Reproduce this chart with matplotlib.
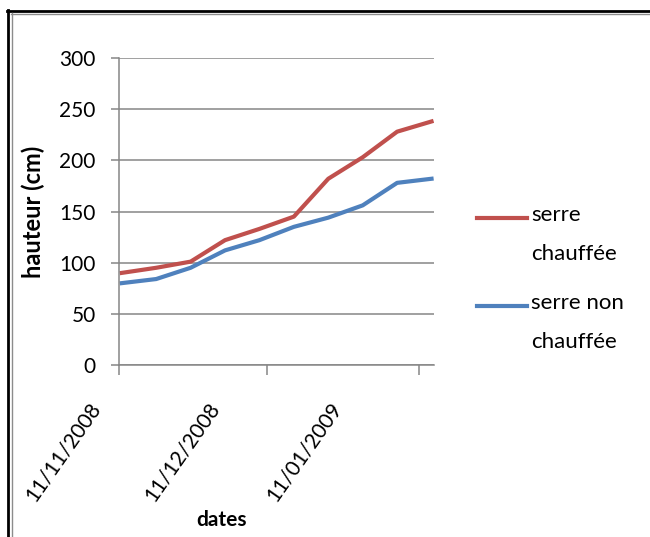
import numpy as np
import pandas as pd
import matplotlib
matplotlib.use("Agg")
import matplotlib.pyplot as plt
import matplotlib.transforms as mtransforms
from matplotlib.lines import Line2D
from matplotlib.legend_handler import HandlerLine2D

# weekly measurements
dates = ["11/11/2008", "18/11/2008", "25/11/2008", "02/12/2008", "09/12/2008",
         "16/12/2008", "23/12/2008", "30/12/2008", "06/01/2009", "13/01/2009"]
serre_chauffee = [90, 95, 101, 122, 133, 145, 182, 203, 228, 238]
serre_non_chauffee = [80, 84, 95, 112, 122, 135, 144, 156, 178, 182]
tick_dates = ["11/11/2008", "11/12/2008", "11/01/2009"]
y_ticks = [0, 50, 100, 150, 200, 250, 300]

plt.rcParams['font.family'] = ['Lato', 'DejaVu Sans']

RED = '#C0504D'
BLUE = '#4F81BD'
GRID = '#868686'

d = pd.to_datetime(dates, dayfirst=True)
t0 = d[0]
# excel date axis: points sit in the middle of each day slot
x = np.asarray((d - t0).days) + 0.5
tx = np.asarray((pd.to_datetime(tick_dates, dayfirst=True) - t0).days)

W, H = 650, 537
fig = plt.figure(figsize=(W / 100, H / 100), dpi=100)
ax = fig.add_axes([119.3 / W, 1 - 365 / H, (434 - 119.3) / W, (365 - 58) / H])

ax.plot(x, serre_chauffee, color=RED, lw=3, label="serre\nchauffée",
        solid_joinstyle='round')
ax.plot(x, serre_non_chauffee, color=BLUE, lw=3, label="serre non\nchauffée",
        solid_joinstyle='round')

ax.set_xlim(0, x[-1] + 0.5)
ax.set_ylim(0, 300)
ax.set_yticks(y_ticks)
ax.yaxis.grid(True, color=GRID, lw=1.1)
ax.set_axisbelow(True)

for side in ['top', 'right']:
    ax.spines[side].set_visible(False)
for side in ['left', 'bottom']:
    ax.spines[side].set_color(GRID)
    ax.spines[side].set_linewidth(1.1)

ax.tick_params(axis='y', length=6, width=1.1, color=GRID, pad=11, labelsize=15)
ax.tick_params(axis='x', length=7, width=1.1, color=GRID, pad=17, labelsize=15)

ax.set_xticks(tx, tick_dates, rotation=55, ha='right', va='top',
              rotation_mode='anchor')
shifts = [-31, -60, -90]
for lbl, dx in zip(ax.get_xticklabels(), shifts):
    lbl.set_transform(lbl.get_transform() +
                      mtransforms.ScaledTranslation(dx / 100, 0, fig.dpi_scale_trans))

ax.set_ylabel("hauteur (cm)", fontsize=17, fontweight='bold')
ax.yaxis.set_label_coords(-0.235, 0.5)
ax.set_xlabel("dates", fontsize=15, fontweight='bold', va='top')
ax.xaxis.set_label_coords(0.326, -0.472)

LINE_SHIFT = 12.2  # points, move the handle up to the first text line


class FirstLineHandler(HandlerLine2D):
    def create_artists(self, legend, orig_handle, xdescent, ydescent, width,
                       height, fontsize, trans):
        arts = super().create_artists(legend, orig_handle, xdescent, ydescent,
                                      width, height, fontsize, trans)
        for a in arts:
            a.set_ydata(np.asarray(a.get_ydata()) + LINE_SHIFT)
        return arts


leg = fig.legend(handles=ax.get_lines(), loc='upper left',
                 bbox_to_anchor=(477 / W, 1 - 205 / H), frameon=False,
                 fontsize=16, handlelength=2.25, handletextpad=0.2,
                 borderpad=0, borderaxespad=0, labelspacing=1.28,
                 handler_map={Line2D: FirstLineHandler()})
for t in leg.get_texts():
    t.set_linespacing(2.2)

# frame of the original figure
fig.add_artist(Line2D([7 / W, 1], [1 - 11 / H] * 2, color='black', lw=2))
fig.add_artist(Line2D([11 / W, 1], [1 - 13.5 / H] * 2, color='#8c8c8c', lw=1))
fig.add_artist(Line2D([7.5 / W] * 2, [0, 1 - 10 / H], color='black', lw=2))
fig.add_artist(Line2D([11.5 / W] * 2, [0, 1 - 13 / H], color='#8c8c8c', lw=1))

fig.savefig("out.png", dpi=100)
